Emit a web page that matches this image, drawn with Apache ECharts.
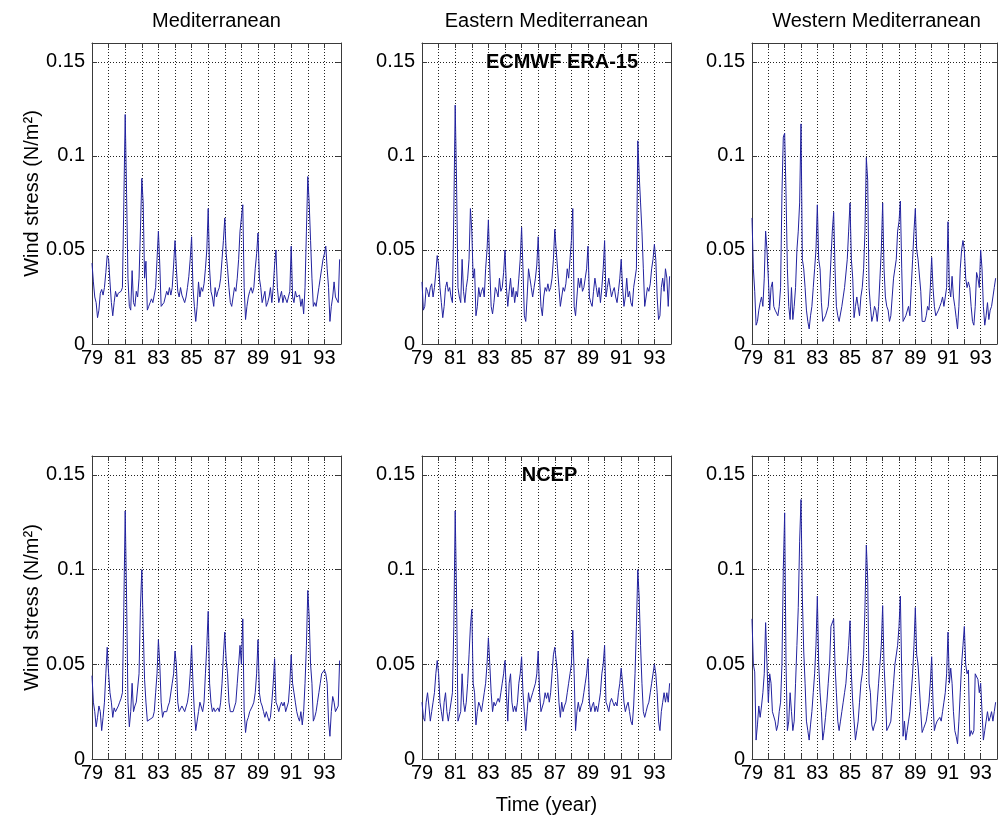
<!DOCTYPE html>
<html><head><meta charset="utf-8">
<script src="https://cdn.jsdelivr.net/npm/echarts@6/dist/echarts.min.js"></script>
<style>html,body{margin:0;padding:0;background:#fff}#c{width:1000px;height:819px}</style>
</head><body><div id="c"></div>
<script>
// Monthly wind stress (N/m^2), Jan 1979 .. Dec 1993, one row per year
const years = [79,80,81,82,83,84,85,86,87,88,89,90,91,92,93];
const xTickLabels = ['79','81','83','85','87','89','91','93'];
const yTickLabels = ['0','0.05','0.1','0.15'];
const panelTitles = ['Mediterranean','Eastern Mediterranean','Western Mediterranean'];
const yAxisName = 'Wind stress (N/m\u00B2)';
const xAxisName = 'Time (year)';
const sourceLabels = ['ECMWF ERA-15','NCEP'];

const eraMed = [
 0.043,0.033,0.025,0.022,0.014,0.018,0.027,0.029,0.026,0.030,0.038,0.047,
 0.045,0.033,0.022,0.015,0.022,0.028,0.025,0.027,0.026,0.028,0.030,0.075,
 0.122,0.080,0.035,0.020,0.018,0.039,0.022,0.020,0.028,0.025,0.035,0.060,
 0.088,0.075,0.035,0.044,0.018,0.020,0.022,0.024,0.022,0.026,0.030,0.045,
 0.060,0.042,0.020,0.021,0.022,0.025,0.028,0.026,0.030,0.026,0.030,0.042,
 0.055,0.040,0.028,0.025,0.030,0.026,0.025,0.022,0.025,0.030,0.036,0.045,
 0.057,0.030,0.020,0.012,0.020,0.033,0.025,0.030,0.028,0.032,0.040,0.050,
 0.072,0.040,0.028,0.025,0.020,0.030,0.025,0.028,0.030,0.035,0.045,0.055,
 0.067,0.048,0.040,0.030,0.022,0.020,0.025,0.030,0.028,0.035,0.045,0.060,
 0.060,0.074,0.030,0.013,0.020,0.025,0.028,0.030,0.027,0.030,0.040,0.048,
 0.059,0.035,0.030,0.022,0.025,0.028,0.020,0.022,0.025,0.030,0.022,0.030,
 0.042,0.050,0.030,0.022,0.025,0.028,0.022,0.026,0.025,0.022,0.025,0.028,
 0.052,0.025,0.022,0.028,0.025,0.024,0.026,0.020,0.024,0.016,0.030,0.060,
 0.089,0.075,0.055,0.035,0.020,0.022,0.020,0.025,0.030,0.035,0.040,0.045,
 0.048,0.052,0.040,0.030,0.012,0.020,0.025,0.033,0.025,0.025,0.022,0.045
];
const eraEast = [
 0.033,0.018,0.020,0.030,0.028,0.025,0.030,0.032,0.025,0.030,0.038,0.047,
 0.042,0.030,0.022,0.014,0.020,0.030,0.033,0.028,0.030,0.025,0.022,0.070,
 0.127,0.085,0.030,0.025,0.022,0.045,0.028,0.022,0.030,0.035,0.045,0.072,
 0.060,0.035,0.040,0.015,0.020,0.030,0.025,0.028,0.030,0.025,0.040,0.050,
 0.066,0.040,0.020,0.016,0.022,0.030,0.028,0.025,0.035,0.028,0.030,0.038,
 0.050,0.030,0.020,0.028,0.035,0.025,0.030,0.022,0.028,0.025,0.035,0.045,
 0.062,0.040,0.015,0.012,0.025,0.040,0.035,0.030,0.025,0.030,0.035,0.042,
 0.057,0.035,0.020,0.015,0.025,0.030,0.028,0.032,0.028,0.030,0.035,0.045,
 0.061,0.050,0.040,0.030,0.020,0.025,0.030,0.028,0.032,0.040,0.035,0.045,
 0.055,0.072,0.020,0.015,0.025,0.035,0.030,0.035,0.028,0.030,0.035,0.040,
 0.052,0.025,0.022,0.020,0.028,0.035,0.030,0.025,0.030,0.022,0.030,0.040,
 0.055,0.025,0.030,0.035,0.030,0.025,0.028,0.030,0.025,0.022,0.028,0.035,
 0.045,0.030,0.020,0.025,0.035,0.025,0.028,0.022,0.020,0.030,0.035,0.040,
 0.108,0.090,0.075,0.060,0.040,0.020,0.025,0.030,0.028,0.032,0.040,0.045,
 0.053,0.045,0.025,0.013,0.015,0.030,0.035,0.028,0.040,0.035,0.020,0.036
];
const eraWest = [
 0.067,0.040,0.028,0.010,0.012,0.018,0.022,0.025,0.020,0.035,0.060,0.050,
 0.035,0.018,0.030,0.033,0.020,0.018,0.017,0.015,0.020,0.030,0.080,0.110,
 0.112,0.080,0.040,0.020,0.013,0.030,0.013,0.020,0.030,0.050,0.060,0.075,
 0.117,0.045,0.040,0.030,0.018,0.012,0.008,0.015,0.020,0.030,0.040,0.050,
 0.074,0.045,0.040,0.022,0.012,0.012,0.015,0.015,0.020,0.030,0.045,0.060,
 0.070,0.040,0.020,0.015,0.012,0.013,0.020,0.025,0.030,0.030,0.045,0.060,
 0.075,0.045,0.035,0.014,0.020,0.025,0.020,0.015,0.025,0.030,0.040,0.060,
 0.099,0.087,0.030,0.020,0.012,0.015,0.020,0.018,0.012,0.020,0.035,0.050,
 0.075,0.040,0.025,0.020,0.018,0.012,0.015,0.025,0.035,0.040,0.045,0.060,
 0.065,0.076,0.040,0.012,0.013,0.015,0.014,0.020,0.015,0.030,0.045,0.060,
 0.072,0.050,0.045,0.045,0.028,0.012,0.013,0.012,0.015,0.020,0.018,0.030,
 0.046,0.030,0.020,0.015,0.016,0.018,0.020,0.022,0.025,0.020,0.025,0.030,
 0.065,0.030,0.025,0.036,0.025,0.020,0.014,0.008,0.020,0.040,0.050,0.055,
 0.050,0.035,0.030,0.033,0.030,0.020,0.012,0.010,0.020,0.038,0.035,0.030,
 0.050,0.040,0.020,0.010,0.015,0.022,0.013,0.018,0.020,0.025,0.030,0.035
];
const ncepMed = [
 0.044,0.030,0.025,0.017,0.022,0.028,0.025,0.015,0.022,0.030,0.045,0.059,
 0.045,0.035,0.030,0.022,0.027,0.025,0.025,0.028,0.030,0.032,0.035,0.080,
 0.131,0.085,0.030,0.017,0.025,0.040,0.025,0.028,0.030,0.030,0.045,0.080,
 0.100,0.070,0.042,0.030,0.020,0.020,0.021,0.020,0.022,0.025,0.035,0.045,
 0.063,0.050,0.030,0.022,0.025,0.024,0.025,0.028,0.030,0.030,0.040,0.045,
 0.057,0.050,0.030,0.025,0.025,0.028,0.028,0.025,0.025,0.030,0.035,0.045,
 0.060,0.040,0.025,0.015,0.020,0.025,0.030,0.030,0.025,0.030,0.045,0.060,
 0.078,0.040,0.030,0.025,0.027,0.025,0.025,0.027,0.025,0.030,0.040,0.055,
 0.067,0.052,0.045,0.030,0.025,0.025,0.025,0.025,0.030,0.040,0.050,0.060,
 0.050,0.074,0.025,0.014,0.020,0.022,0.025,0.025,0.028,0.030,0.035,0.045,
 0.063,0.035,0.030,0.028,0.025,0.022,0.025,0.025,0.020,0.022,0.030,0.040,
 0.053,0.030,0.028,0.025,0.028,0.030,0.028,0.030,0.025,0.025,0.030,0.040,
 0.055,0.040,0.035,0.030,0.025,0.022,0.020,0.025,0.018,0.025,0.040,0.060,
 0.089,0.075,0.050,0.040,0.020,0.022,0.025,0.030,0.035,0.040,0.045,0.045,
 0.047,0.045,0.040,0.020,0.012,0.025,0.033,0.030,0.025,0.025,0.028,0.052
];
const ncepEast = [
 0.030,0.022,0.020,0.030,0.035,0.028,0.020,0.025,0.030,0.035,0.045,0.052,
 0.045,0.030,0.025,0.020,0.030,0.035,0.025,0.020,0.025,0.030,0.035,0.070,
 0.131,0.085,0.020,0.020,0.025,0.045,0.030,0.025,0.030,0.040,0.055,0.070,
 0.079,0.040,0.035,0.018,0.025,0.030,0.028,0.025,0.030,0.035,0.040,0.050,
 0.064,0.050,0.035,0.025,0.030,0.028,0.030,0.032,0.030,0.035,0.040,0.045,
 0.052,0.035,0.020,0.040,0.045,0.030,0.025,0.028,0.025,0.030,0.040,0.045,
 0.054,0.035,0.025,0.015,0.025,0.035,0.030,0.030,0.035,0.035,0.040,0.045,
 0.057,0.035,0.025,0.025,0.030,0.035,0.032,0.035,0.030,0.035,0.045,0.055,
 0.059,0.058,0.045,0.030,0.022,0.030,0.025,0.028,0.030,0.035,0.040,0.045,
 0.050,0.068,0.045,0.015,0.025,0.030,0.025,0.028,0.030,0.035,0.040,0.045,
 0.053,0.030,0.025,0.028,0.030,0.025,0.028,0.025,0.030,0.035,0.045,0.050,
 0.060,0.030,0.028,0.025,0.030,0.032,0.030,0.028,0.030,0.028,0.035,0.040,
 0.048,0.040,0.030,0.025,0.028,0.030,0.025,0.020,0.018,0.028,0.045,0.070,
 0.100,0.085,0.060,0.040,0.025,0.022,0.025,0.028,0.030,0.035,0.040,0.045,
 0.050,0.045,0.035,0.020,0.015,0.025,0.030,0.035,0.030,0.035,0.030,0.040
];
const ncepWest = [
 0.074,0.050,0.046,0.010,0.018,0.028,0.022,0.028,0.035,0.045,0.072,0.050,
 0.030,0.045,0.040,0.025,0.025,0.020,0.015,0.018,0.025,0.030,0.050,0.100,
 0.130,0.050,0.015,0.020,0.035,0.025,0.015,0.020,0.040,0.060,0.080,0.115,
 0.137,0.085,0.057,0.040,0.020,0.015,0.010,0.018,0.025,0.035,0.045,0.060,
 0.086,0.050,0.035,0.025,0.010,0.015,0.022,0.030,0.040,0.050,0.070,0.070,
 0.074,0.050,0.035,0.020,0.015,0.020,0.025,0.030,0.035,0.040,0.050,0.060,
 0.073,0.045,0.030,0.020,0.010,0.015,0.020,0.030,0.040,0.045,0.055,0.080,
 0.113,0.095,0.040,0.035,0.018,0.015,0.018,0.020,0.030,0.040,0.050,0.060,
 0.081,0.050,0.035,0.015,0.015,0.018,0.020,0.030,0.040,0.050,0.050,0.060,
 0.070,0.086,0.045,0.012,0.020,0.010,0.015,0.020,0.025,0.035,0.045,0.060,
 0.080,0.055,0.050,0.050,0.025,0.014,0.016,0.018,0.020,0.025,0.030,0.040,
 0.054,0.030,0.015,0.018,0.020,0.020,0.022,0.020,0.025,0.030,0.035,0.045,
 0.067,0.040,0.048,0.040,0.025,0.015,0.012,0.008,0.020,0.035,0.050,0.060,
 0.070,0.050,0.045,0.047,0.012,0.015,0.013,0.015,0.045,0.044,0.042,0.035,
 0.040,0.025,0.010,0.015,0.020,0.025,0.020,0.022,0.025,0.020,0.025,0.030
];

const FONT = 'Liberation Sans, Arial, Helvetica, sans-serif';
const LINE = '#2323a0';
const BOX = '#3a3a3a';

const colLeft = [92, 422, 752];
const rowTop = [43, 456];
const rowHeight = [301, 303];
const plotWidth = 249;

const panels = [
  {data: eraMed, row: 0, col: 0},
  {data: eraEast, row: 0, col: 1},
  {data: eraWest, row: 0, col: 2},
  {data: ncepMed, row: 1, col: 0},
  {data: ncepEast, row: 1, col: 1},
  {data: ncepWest, row: 1, col: 2}
];

function toPoints(vals) {
  const pts = [];
  years.forEach((y, yi) => {
    for (let m = 0; m < 12; m++) {
      pts.push([y + m / 12, vals[yi * 12 + m]]);
    }
  });
  return pts;
}

const grid = [], xAxis = [], yAxis = [], series = [];
const dotted = {show: true, lineStyle: {color: '#222', width: 1, type: [1, 2]}};
panels.forEach((p, i) => {
  grid.push({left: colLeft[p.col], top: rowTop[p.row], width: plotWidth, height: rowHeight[p.row],
    show: true, backgroundColor: '#fff', borderWidth: 0});
  // bottom x axis with labels
  xAxis.push({type: 'value', gridIndex: i, min: 79, max: 94, interval: 1, position: 'bottom',
    axisLine: {show: true, onZero: false, lineStyle: {color: BOX, width: 1}},
    axisTick: {show: true, inside: true, length: 5, lineStyle: {color: BOX}},
    axisLabel: {show: true, margin: 4, color: '#000', fontSize: 20, fontFamily: FONT,
      formatter: v => xTickLabels.indexOf(String(Math.round(v))) >= 0 ? String(Math.round(v)) : ''},
    splitLine: dotted,
    name: (i === 4 ? xAxisName : ''), nameLocation: 'middle', nameGap: 36,
    nameTextStyle: {fontSize: 20, fontFamily: FONT, color: '#000'}});
  // top x axis (box + ticks)
  xAxis.push({type: 'value', gridIndex: i, min: 79, max: 94, interval: 1, position: 'top',
    axisLine: {show: true, onZero: false, lineStyle: {color: BOX, width: 1}},
    axisTick: {show: true, inside: true, length: 5, lineStyle: {color: BOX}},
    axisLabel: {show: false}, splitLine: {show: false}});
  yAxis.push({type: 'value', gridIndex: i, min: 0, max: 0.16, interval: 0.05, position: 'left',
    axisLine: {show: true, onZero: false, lineStyle: {color: BOX, width: 1}},
    axisTick: {show: true, inside: true, length: 5, lineStyle: {color: BOX}},
    axisLabel: {show: true, margin: 7, color: '#000', fontSize: 20, fontFamily: FONT,
      formatter: v => { const k = Math.round(v / 0.05); return (Math.abs(v - k * 0.05) < 1e-6 && k < yTickLabels.length) ? yTickLabels[k] : ''; }},
    splitLine: dotted,
    name: (p.col === 0 ? yAxisName : ''), nameLocation: 'middle', nameGap: 50, nameRotate: 90,
    nameTextStyle: {fontSize: 20, fontFamily: FONT, color: '#000'}});
  yAxis.push({type: 'value', gridIndex: i, min: 0, max: 0.16, interval: 0.05, position: 'right',
    axisLine: {show: true, onZero: false, lineStyle: {color: BOX, width: 1}},
    axisTick: {show: true, inside: true, length: 5, lineStyle: {color: BOX}},
    axisLabel: {show: false}, splitLine: {show: false}});
  series.push({type: 'line', xAxisIndex: i * 2, yAxisIndex: i * 2, data: toPoints(p.data),
    showSymbol: false, symbol: 'none', lineStyle: {color: LINE, width: 1}, silent: true, z: 3});
});

const graphic = [];
panelTitles.forEach((t, c) => {
  graphic.push({type: 'text', x: colLeft[c] + plotWidth / 2, y: 21,
    style: {text: t, fill: '#000', font: '20px ' + FONT, textAlign: 'center', textVerticalAlign: 'middle'}});
});
graphic.push({type: 'text', x: 562, y: 62, z: 10,
  style: {text: sourceLabels[0], fill: '#000', font: 'bold 20px ' + FONT, textAlign: 'center', textVerticalAlign: 'middle'}});
graphic.push({type: 'text', x: 549.5, y: 475, z: 10,
  style: {text: sourceLabels[1], fill: '#000', font: 'bold 20px ' + FONT, textAlign: 'center', textVerticalAlign: 'middle'}});

const chart = echarts.init(document.getElementById('c'), null, {renderer: 'canvas'});
chart.setOption({backgroundColor: '#fff', animation: false, grid, xAxis, yAxis, series, graphic});
</script></body></html>
